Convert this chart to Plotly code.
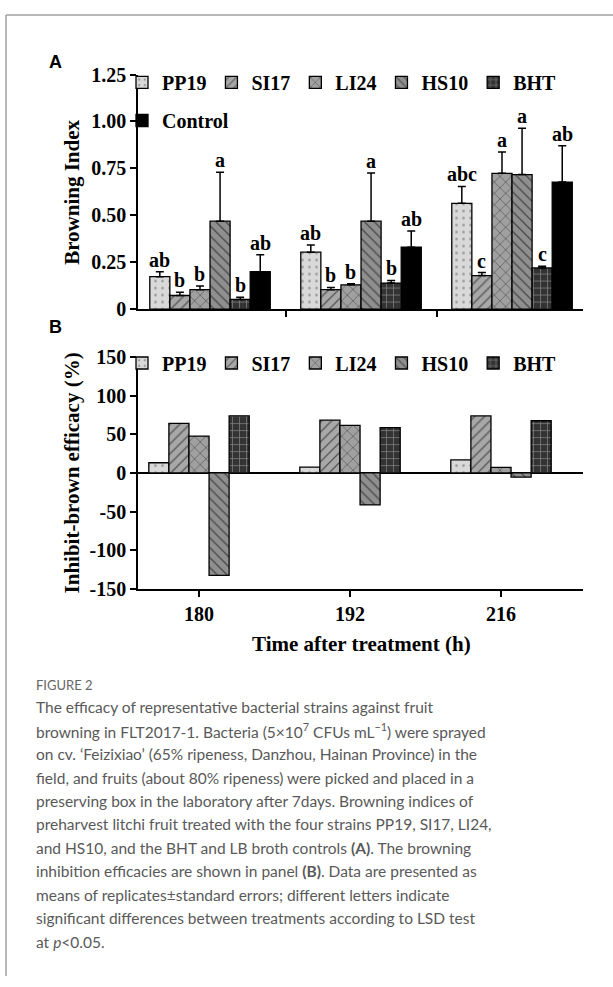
import plotly.graph_objects as go

# ---------------- data ----------------
times = ["180", "192", "216"]

strains_a = ["PP19", "SI17", "LI24", "HS10", "BHT", "Control"]
strains_b = ["PP19", "SI17", "LI24", "HS10", "BHT"]

# Panel A: browning index (mean, SE, LSD letters)
pp19_bi = [0.173, 0.304, 0.564]
pp19_se = [0.027, 0.038, 0.090]
pp19_let = ["ab", "ab", "abc"]

si17_bi = [0.073, 0.104, 0.179]
si17_se = [0.017, 0.012, 0.016]
si17_let = ["b", "b", "c"]

li24_bi = [0.104, 0.130, 0.724]
li24_se = [0.020, 0.006, 0.113]
li24_let = ["b", "b", "a"]

hs10_bi = [0.469, 0.469, 0.717]
hs10_se = [0.260, 0.257, 0.247]
hs10_let = ["a", "a", "a"]

bht_bi = [0.052, 0.139, 0.220]
bht_se = [0.012, 0.014, 0.009]
bht_let = ["b", "b", "c"]

ctrl_bi = [0.200, 0.330, 0.677]
ctrl_se = [0.090, 0.087, 0.194]
ctrl_let = ["ab", "ab", "ab"]

# Panel B: inhibit-brown efficacy (%)
pp19_inh = [13.2, 7.6, 16.9]
si17_inh = [64.3, 68.4, 73.9]
li24_inh = [47.8, 61.7, 7.2]
hs10_inh = [-132.6, -41.4, -5.5]
bht_inh = [74.0, 58.7, 67.6]

a_ticks = [0, 0.25, 0.5, 0.75, 1.0, 1.25]
a_ticktext = ["0", "0.25", "0.50", "0.75", "1.00", "1.25"]
b_ticks = [150, 100, 50, 0, -50, -100, -150]
b_ticktext = ["150", "100", "50", "0", "-50", "-100", "-150"]

panel_a = [
    ("PP19", pp19_bi, pp19_se, pp19_let),
    ("SI17", si17_bi, si17_se, si17_let),
    ("LI24", li24_bi, li24_se, li24_let),
    ("HS10", hs10_bi, hs10_se, hs10_let),
    ("BHT", bht_bi, bht_se, bht_let),
    ("Control", ctrl_bi, ctrl_se, ctrl_let),
]
panel_b = [
    ("PP19", pp19_inh),
    ("SI17", si17_inh),
    ("LI24", li24_inh),
    ("HS10", hs10_inh),
    ("BHT", bht_inh),
]

# ---------------- styles ----------------
SERIF = "Liberation Serif"
SANS = "Liberation Sans"
CAP_FONT = "Lato"
STYLE = {
    "PP19": dict(color="#d9d9d9", pattern=dict(shape=".", fgcolor="#555555", size=7, solidity=0.12)),
    "SI17": dict(color="#a8a8a8", pattern=dict(shape="/", fgcolor="#000000", size=7, solidity=0.18)),
    "LI24": dict(color="#a0a0a0", pattern=dict(shape="x", fgcolor="#000000", size=8, solidity=0.15)),
    "HS10": dict(color="#8f8f8f", pattern=dict(shape="\\", fgcolor="#000000", size=7, solidity=0.18)),
    "BHT": dict(color="#333333", pattern=dict(shape="+", fgcolor="#d0d0d0", size=7, solidity=0.2)),
    "Control": dict(color="#000000", pattern=dict(shape="")),
}

W, H = 613, 987
def px(x):
    return x / W
def py(y):
    return 1 - y / H

BAR_W = 0.133
idx = list(range(len(times)))

fig = go.Figure()

# Panel A bars
nA = len(panel_a)
annotations = []
for i, (name, mean, se, let) in enumerate(panel_a):
    st = STYLE[name]
    off = (i - nA / 2) * BAR_W
    fig.add_trace(go.Bar(
        x=idx, y=mean, name=name, xaxis="x", yaxis="y",
        offset=off, width=BAR_W,
        marker=dict(color=st["color"], pattern=st["pattern"],
                    line=dict(color="black", width=1.3)),
        error_y=dict(type="data", array=se, arrayminus=[0] * len(se), symmetric=False,
                     color="black", thickness=1.5, width=4),
        legend="legend3" if name == "Control" else "legend",
        showlegend=True,
    ))
    for j in idx:
        annotations.append(dict(
            x=j + off + BAR_W / 2, y=mean[j] + se[j], xref="x", yref="y",
            text=let[j], showarrow=False, yanchor="bottom", yshift=-1,
            font=dict(family=SERIF, size=20, color="black", weight="bold"),
        ))

# Panel B bars
nB = len(panel_b)
for i, (name, vals) in enumerate(panel_b):
    st = STYLE[name]
    off = (i - nB / 2) * BAR_W
    fig.add_trace(go.Bar(
        x=idx, y=vals, name=name, xaxis="x2", yaxis="y2",
        offset=off, width=BAR_W,
        marker=dict(color=st["color"], pattern=st["pattern"],
                    line=dict(color="black", width=1.3)),
        legend="legend2", showlegend=True,
    ))

axis_common = dict(showline=True, linecolor="black", linewidth=1.5, ticks="outside",
                   ticklen=6, tickwidth=1.5, tickcolor="black", showgrid=False,
                   zeroline=False,
                   tickfont=dict(family=SERIF, size=20, color="black", weight="bold"))

xdom = [px(138), px(583)]
fig.update_layout(
    width=W, height=H,
    margin=dict(l=0, r=0, t=0, b=0),
    paper_bgcolor="white", plot_bgcolor="white",
    barmode="overlay",
    xaxis=dict(domain=xdom, range=[-0.477, 2.470], anchor="y",
               tickvals=[0.5, 1.5], showticklabels=False, **axis_common),
    yaxis=dict(domain=[py(305), py(65)], range=[0, 1.25], anchor="x",
               tickvals=a_ticks, ticktext=a_ticktext, **axis_common),
    xaxis2=dict(domain=xdom, range=[-0.404, 2.543], anchor="y2",
                tickvals=idx, ticktext=times, **axis_common),
    yaxis2=dict(domain=[py(591), py(354)], range=[-150, 150], anchor="x2",
                tickvals=b_ticks, ticktext=b_ticktext,
                **{k: v for k, v in axis_common.items() if k != "zeroline"},
                zeroline=True, zerolinecolor="black", zerolinewidth=1.5),
)

leg_font = dict(family=SERIF, size=20, color="black", weight="bold")
fig.update_layout(
    legend=dict(orientation="h", x=px(122), y=py(73), xanchor="left", yanchor="middle",
                font=leg_font, bgcolor="rgba(0,0,0,0)", itemwidth=30, traceorder="normal"),
    legend3=dict(orientation="h", x=px(122), y=py(112), xanchor="left", yanchor="middle",
                 font=leg_font, bgcolor="rgba(0,0,0,0)", itemwidth=30),
    legend2=dict(orientation="h", x=px(122), y=py(360), xanchor="left", yanchor="middle",
                 font=leg_font, bgcolor="rgba(0,0,0,0)", itemwidth=30, traceorder="normal"),
)

# axis titles & panel labels
annotations += [
    dict(x=px(72), y=py(186), xref="paper", yref="paper", text="Browning Index",
         textangle=-90, showarrow=False, xanchor="center", yanchor="middle",
         font=dict(family=SERIF, size=21, color="black", weight="bold")),
    dict(x=px(72), y=py(473), xref="paper", yref="paper", text="Inhibit-brown efficacy (%)",
         textangle=-90, showarrow=False, xanchor="center", yanchor="middle",
         font=dict(family=SERIF, size=21, color="black", weight="bold")),
    dict(x=px(361), y=py(647), xref="paper", yref="paper", text="Time after treatment (h)",
         showarrow=False, xanchor="center", yanchor="middle",
         font=dict(family=SERIF, size=21, color="black", weight="bold")),
    dict(x=px(47), y=py(52), xref="paper", yref="paper", text="A", showarrow=False,
         xanchor="left", yanchor="middle",
         font=dict(family=SANS, size=18, color="black", weight="bold")),
    dict(x=px(47), y=py(323), xref="paper", yref="paper", text="B", showarrow=False,
         xanchor="left", yanchor="middle",
         font=dict(family=SANS, size=18, color="black", weight="bold")),
]

# caption
caption_lines = [
    "The efficacy of representative bacterial strains against fruit",
    "browning in FLT2017-1. Bacteria (5×10<sup>7</sup> CFUs mL<sup>−1</sup>) were sprayed",
    "on cv. ‘Feizixiao’ (65% ripeness, Danzhou, Hainan Province) in the",
    "field, and fruits (about 80% ripeness) were picked and placed in a",
    "preserving box in the laboratory after 7days. Browning indices of",
    "preharvest litchi fruit treated with the four strains PP19, SI17, LI24,",
    "and HS10, and the BHT and LB broth controls <b>(A)</b>. The browning",
    "inhibition efficacies are shown in panel <b>(B)</b>. Data are presented as",
    "means of replicates±standard errors; different letters indicate",
    "significant differences between treatments according to LSD test",
    "at <i>p</i>&lt;0.05.",
]
annotations.append(dict(x=px(34), y=py(689), xref="paper", yref="paper", text="FIGURE 2",
                        showarrow=False, xanchor="left", yanchor="middle",
                        font=dict(family=CAP_FONT, size=13, color="#666666")))
for k, line in enumerate(caption_lines):
    annotations.append(dict(x=px(34), y=py(712 + 24 * k), xref="paper", yref="paper",
                            text=line, showarrow=False, xanchor="left", yanchor="middle",
                            font=dict(family=CAP_FONT, size=15.5, color="#595959")))

fig.update_layout(annotations=annotations)

# frame lines
fig.add_shape(type="line", xref="paper", yref="paper", x0=px(6), x1=1, y0=py(4), y1=py(4),
              line=dict(color="#a0a0a0", width=1.5))
fig.add_shape(type="line", xref="paper", yref="paper", x0=px(6), x1=px(6), y0=py(4), y1=0,
              line=dict(color="#a0a0a0", width=1.5))

fig.write_html("out.html",
               config={"displayModeBar": False},
               post_script="document.body.style.margin='0';document.body.style.overflow='hidden';")
